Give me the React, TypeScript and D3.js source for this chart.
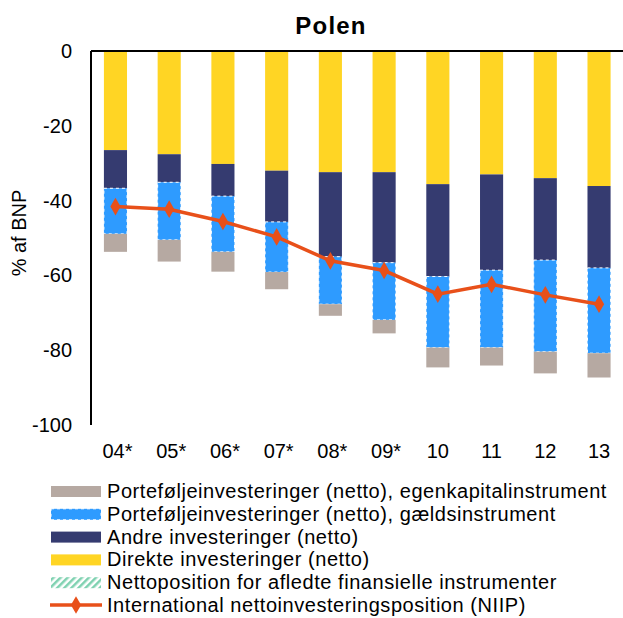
import * as d3 from 'd3'
import { useEffect } from 'react'

const years = ['04*', '05*', '06*', '07*', '08*', '09*', '10', '11', '12', '13']
const direkte = [-26.5, -27.6, -30.2, -32.0, -32.4, -32.4, -35.6, -33.0, -34.0, -36.1]
const andre = [-10.2, -7.5, -8.6, -13.7, -22.6, -24.2, -24.7, -25.6, -21.9, -21.9]
const gaelds = [-12.2, -15.4, -14.9, -13.4, -12.7, -15.3, -19.0, -20.7, -24.5, -22.8]
const egenkapital = [-4.8, -5.8, -5.3, -4.6, -3.1, -3.6, -5.3, -4.8, -5.8, -6.5]
const derivater = [0, 0, 0, 0, 0, 0, 0, 0, 0, 0]
const niip = [-41.6, -42.3, -45.6, -49.7, -56.1, -58.7, -65.0, -62.4, -65.2, -67.7]
const yTicks = [0, -20, -40, -60, -80, -100]

const keys = ['direkte', 'andre', 'gaelds', 'egenkapital', 'derivater']
const colors: Record<string, string> = {
    direkte: '#FFD524',
    andre: '#353B70',
    gaelds: '#2E9BFF',
    egenkapital: '#B6A9A2',
    derivater: 'url(#hatch)',
}

const legendItems = [
    { key: 'egenkapital', label: 'Porteføljeinvesteringer (netto), egenkapitalinstrument' },
    { key: 'gaelds', label: 'Porteføljeinvesteringer (netto), gældsinstrument' },
    { key: 'andre', label: 'Andre investeringer (netto)' },
    { key: 'direkte', label: 'Direkte investeringer (netto)' },
    { key: 'derivater', label: 'Nettoposition for afledte finansielle instrumenter' },
    { key: 'niip', label: 'International nettoinvesteringsposition (NIIP)' },
]

const font = '"Liberation Sans", Arial, sans-serif'

function App() {
    useEffect(() => {
        document.body.style.margin = '0'
    }, [])

    const rows = years.map((y, i) => ({
        year: y,
        direkte: direkte[i],
        andre: andre[i],
        gaelds: gaelds[i],
        egenkapital: egenkapital[i],
        derivater: derivater[i],
    }))

    const x = d3.scaleBand().domain(years).range([88.6, 625.9]).paddingInner(0.57).paddingOuter(0.285)
    const y = d3.scaleLinear().domain([-100, 0]).range([425, 51])
    const cx = (yr: string) => x(yr)! + x.bandwidth() / 2

    const series = d3.stack<any>().keys(keys).offset(d3.stackOffsetDiverging)(rows)

    const line = d3
        .line<number>()
        .x((d, i) => cx(years[i]))
        .y((d) => y(d))

    const diamond = d3.symbol().type(d3.symbolDiamond).size(90)()

    return (
        <svg width={623} height={618} style={{ display: 'block', fontFamily: font }}>
            <defs>
                <pattern id="hatch" width="5" height="5" patternUnits="userSpaceOnUse" patternTransform="rotate(45)">
                    <rect width="5" height="5" fill="#ffffff" />
                    <rect width="2.5" height="5" fill="#7ED1B0" />
                </pattern>
            </defs>
            <text x={331} y={34} textAnchor="middle" fontSize={24} fontWeight="bold" letterSpacing={1.2}>
                Polen
            </text>

            {series.map((s) => (
                <g key={s.key}>
                    {s.map((d, i) => {
                        const top = y(Math.max(d[0], d[1]))
                        const h = Math.abs(y(d[0]) - y(d[1]))
                        if (h <= 0) return null
                        return (
                            <rect
                                key={i}
                                x={x(years[i])}
                                y={top}
                                width={x.bandwidth()}
                                height={h}
                                fill={colors[s.key]}
                                stroke={s.key === 'gaelds' ? '#ffffff' : 'none'}
                                strokeWidth={s.key === 'gaelds' ? 1 : 0}
                                strokeDasharray={s.key === 'gaelds' ? '3,3' : undefined}
                            />
                        )
                    })}
                </g>
            ))}

            <line x1={91} x2={623} y1={y(0)} y2={y(0)} stroke="#000" strokeWidth={2} />
            <line x1={91} x2={91} y1={y(0)} y2={y(-100)} stroke="#000" strokeWidth={2} />

            {yTicks.map((t) => (
                <text key={t} x={72} y={y(t)} dy="0.35em" textAnchor="end" fontSize={20}>
                    {t}
                </text>
            ))}
            {years.map((yr) => (
                <text key={yr} x={cx(yr) + (yr.includes('*') ? 2 : 0)} y={458} textAnchor="middle" fontSize={20}>
                    {yr}
                </text>
            ))}
            <text transform="translate(26,233) rotate(-90)" textAnchor="middle" fontSize={20}>
                % af BNP
            </text>

            <path d={line(niip)!} fill="none" stroke="#E8501A" strokeWidth={3.5} />
            {niip.map((v, i) => (
                <path key={i} d={diamond!} transform={`translate(${cx(years[i])},${y(v)})`} fill="#E8501A" />
            ))}

            {legendItems.map((item, i) => {
                const cy = 491 + i * 22.8
                return (
                    <g key={item.key}>
                        {item.key === 'niip' ? (
                            <g>
                                <line x1={50} x2={102} y1={cy} y2={cy} stroke="#E8501A" strokeWidth={3.5} />
                                <path d={diamond!} transform={`translate(76,${cy})`} fill="#E8501A" />
                            </g>
                        ) : (
                            <rect
                                x={51}
                                y={cy - 5}
                                width={50}
                                height={11}
                                fill={colors[item.key]}
                                stroke={item.key === 'gaelds' ? '#ffffff' : 'none'}
                                strokeDasharray={item.key === 'gaelds' ? '3,3' : undefined}
                            />
                        )}
                        <text x={107} y={cy} dy="0.35em" fontSize={20} letterSpacing={0.55}>
                            {item.label}
                        </text>
                    </g>
                )
            })}
        </svg>
    )
}

export default App
